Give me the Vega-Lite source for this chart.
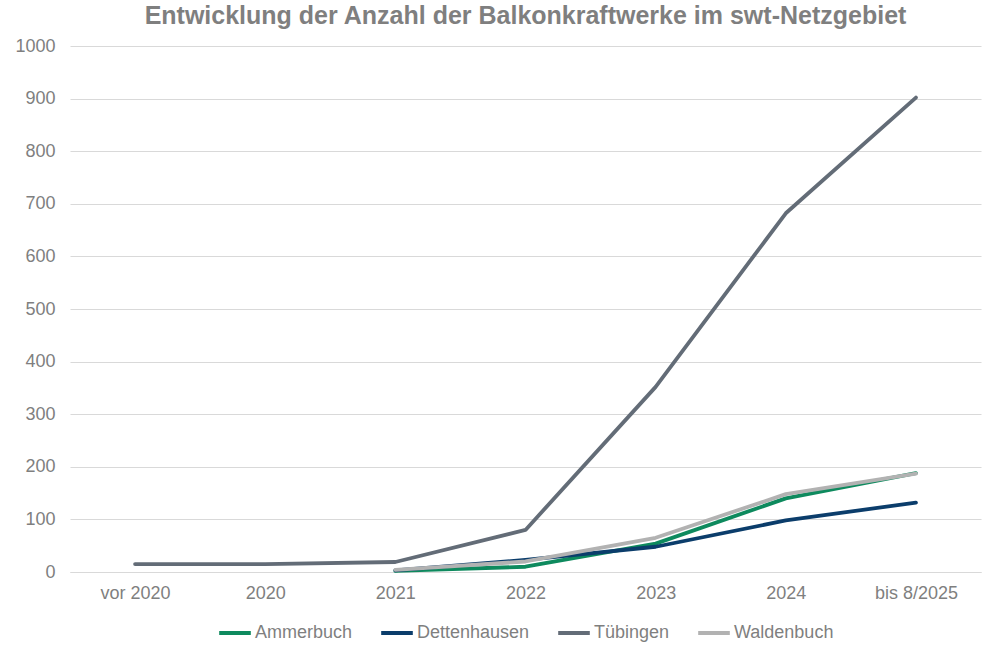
{
  "$schema": "https://vega.github.io/schema/vega-lite/v6.json",
  "autosize": {"type": "fit", "contains": "padding"},
  "width": 993,
  "height": 649,
  "padding": {"left": 14, "right": 12, "top": 4, "bottom": 7},
  "background": "white",
  "title": {
    "text": "Entwicklung der Anzahl der Balkonkraftwerke im swt-Netzgebiet",
    "font": "Liberation Sans",
    "fontSize": 25,
    "fontWeight": "bold",
    "color": "#7f7f7f",
    "offset": 8
  },
  "config": {
    "view": {"stroke": null},
    "font": "Liberation Sans",
    "legend": {"layout": {"bottom": {"anchor": "middle"}}}
  },
  "data": {
    "values": [
      {"period": "vor 2020", "city": "Tübingen", "count": 15},
      {"period": "2020", "city": "Tübingen", "count": 15},
      {"period": "2021", "city": "Tübingen", "count": 19},
      {"period": "2022", "city": "Tübingen", "count": 80},
      {"period": "2023", "city": "Tübingen", "count": 352},
      {"period": "2024", "city": "Tübingen", "count": 682},
      {"period": "bis 8/2025", "city": "Tübingen", "count": 902},
      {"period": "2021", "city": "Ammerbuch", "count": 2},
      {"period": "2022", "city": "Ammerbuch", "count": 10},
      {"period": "2023", "city": "Ammerbuch", "count": 54},
      {"period": "2024", "city": "Ammerbuch", "count": 140},
      {"period": "bis 8/2025", "city": "Ammerbuch", "count": 188},
      {"period": "2021", "city": "Dettenhausen", "count": 3},
      {"period": "2022", "city": "Dettenhausen", "count": 23},
      {"period": "2023", "city": "Dettenhausen", "count": 48},
      {"period": "2024", "city": "Dettenhausen", "count": 98},
      {"period": "bis 8/2025", "city": "Dettenhausen", "count": 132},
      {"period": "2021", "city": "Waldenbuch", "count": 4},
      {"period": "2022", "city": "Waldenbuch", "count": 20},
      {"period": "2023", "city": "Waldenbuch", "count": 65},
      {"period": "2024", "city": "Waldenbuch", "count": 148},
      {"period": "bis 8/2025", "city": "Waldenbuch", "count": 187}
    ]
  },
  "mark": {"type": "line", "strokeWidth": 3.8, "strokeCap": "round", "strokeJoin": "round"},
  "encoding": {
    "x": {
      "field": "period",
      "type": "ordinal",
      "sort": ["vor 2020", "2020", "2021", "2022", "2023", "2024", "bis 8/2025"],
      "scale": {"padding": 0.5},
      "axis": {
        "title": null,
        "labelAngle": 0,
        "labelFontSize": 18,
        "labelColor": "#7f7f7f",
        "labelPadding": 12,
        "ticks": false,
        "domainColor": "#d9d9d9",
        "grid": false
      }
    },
    "y": {
      "field": "count",
      "type": "quantitative",
      "scale": {"domain": [0, 1000]},
      "axis": {
        "title": null,
        "format": "d",
        "values": [0, 100, 200, 300, 400, 500, 600, 700, 800, 900, 1000],
        "labelFontSize": 18,
        "labelColor": "#7f7f7f",
        "labelPadding": 15,
        "ticks": false,
        "domain": false,
        "gridColor": "#d9d9d9"
      }
    },
    "color": {
      "field": "city",
      "type": "nominal",
      "scale": {
        "domain": ["Ammerbuch", "Dettenhausen", "Tübingen", "Waldenbuch"],
        "range": ["#0e8a5e", "#0b3d6b", "#636c77", "#b2b2b2"]
      },
      "legend": {
        "title": null,
        "orient": "bottom",
        "direction": "horizontal",
        "symbolType": "stroke",
        "symbolStrokeWidth": 4,
        "symbolSize": 1000,
        "labelFontSize": 18,
        "labelColor": "#7f7f7f",
        "labelOffset": 2,
        "columnPadding": 20,
        "offset": 13
      }
    },
    "order": {"field": "count"}
  }
}
